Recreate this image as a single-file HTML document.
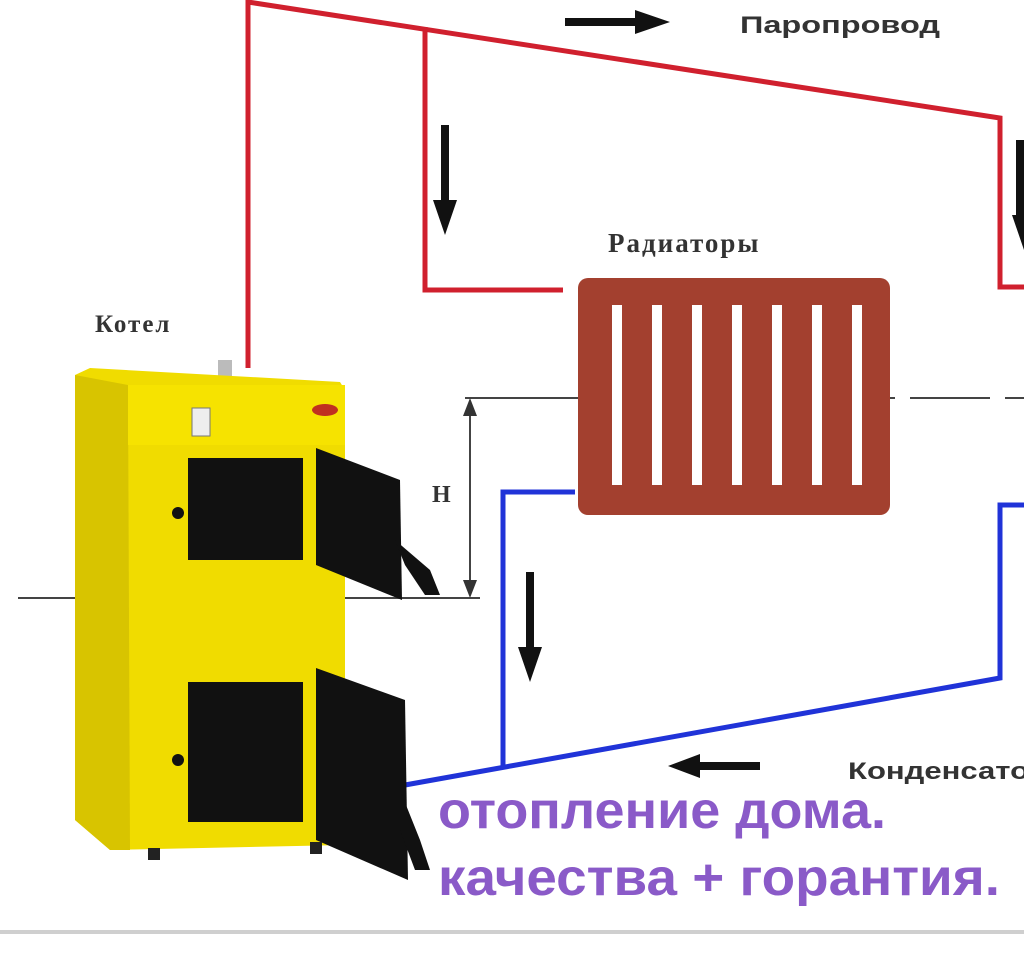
<!DOCTYPE html>
<html><head><meta charset="utf-8"><style>
body{margin:0;width:1024px;height:977px;background:#fff;overflow:hidden}
svg{display:block}
</style></head><body>
<svg width="1024" height="977" viewBox="0 0 1024 977" xmlns="http://www.w3.org/2000/svg">
<rect x="0" y="0" width="1024" height="932" fill="#fff"/>
<rect x="0" y="930" width="1024" height="4" fill="#cfcfcf"/>
<g fill="none" stroke="#d0202e" stroke-width="5">
<polyline points="248,368 248,2 1000,118 1000,287 1024,287"/>
<polyline points="425,27 425,290 563,290"/>
</g>
<g fill="none" stroke="#2033d8" stroke-width="5">
<polyline points="575,492 503,492 503,767"/>
<polyline points="405,785 1000,678 1000,505 1024,505"/>
</g>
<g stroke="#444" stroke-width="2" fill="none">
<path d="M465 398H860M880 398H895M910 398H990M1005 398H1024"/>
<path d="M18 598H190M200 598H240M255 598H480"/>
<line x1="470" y1="405" x2="470" y2="590"/>
</g>
<path d="M470 398l-7 18h14zM470 598l-7-18h14z" fill="#333"/>
<g fill="#111">
<path d="M565 18h70v-8l35 12-35 12v-8h-70z"/>
<path d="M441 125h8v75h8l-12 35-12-35h8z"/>
<path d="M1016 140h8v75h0l0 35-12-35h4z"/>
<path d="M526 572h8v75h8l-12 35-12-35h8z"/>
<path d="M760 762v8h-60v8l-32-12 32-12v8z"/>
</g>
<g font-family="'Liberation Sans',sans-serif" font-weight="bold" fill="#333">
<text x="740" y="33" font-size="24" textLength="200" lengthAdjust="spacingAndGlyphs">Паропровод</text>
<text x="848" y="779" font-size="24" textLength="200" lengthAdjust="spacingAndGlyphs">Конденсатор</text>
</g>
<g font-family="'Liberation Serif',serif" font-weight="bold" fill="#333">
<text x="608" y="252" font-size="27" letter-spacing="2">Радиаторы</text>
<text x="95" y="332" font-size="25" letter-spacing="2">Котел</text>
<text x="432" y="502" font-size="24">H</text>
</g>
<g>
<rect x="578" y="278" width="312" height="237" rx="10" fill="#a3402f"/>
<g fill="#fff">
<rect x="612" y="305" width="10" height="180"/>
<rect x="652" y="305" width="10" height="180"/>
<rect x="692" y="305" width="10" height="180"/>
<rect x="732" y="305" width="10" height="180"/>
<rect x="772" y="305" width="10" height="180"/>
<rect x="812" y="305" width="10" height="180"/>
<rect x="852" y="305" width="10" height="180"/>
</g>
</g>
<g>
<rect x="218" y="360" width="14" height="20" fill="#bbb"/>
<path d="M75 375 L90 368 L340 382 L345 390 L345 845 L110 850 L75 820Z" fill="#f0dc00"/>
<path d="M75 375 L128 385 L130 850 L110 850 L75 820Z" fill="#d8c400"/>
<rect x="128" y="385" width="217" height="60" fill="#f6e300"/>
<rect x="192" y="408" width="18" height="28" fill="#eee" stroke="#777"/>
<ellipse cx="325" cy="410" rx="13" ry="6" fill="#c03020"/>
<rect x="188" y="458" width="115" height="102" fill="#111"/>
<path d="M316 448 L400 480 L402 600 L316 565Z" fill="#111"/>
<path d="M395 540 L430 570 L440 595 L425 595 L405 565Z" fill="#111"/>
<rect x="188" y="682" width="115" height="140" fill="#111"/>
<path d="M316 668 L405 700 L408 880 L316 840Z" fill="#111"/>
<path d="M400 790 L420 840 L430 870 L415 870 L400 830Z" fill="#111"/>
<circle cx="178" cy="513" r="6" fill="#111"/>
<circle cx="178" cy="760" r="6" fill="#111"/>
<rect x="148" y="848" width="12" height="12" fill="#222"/>
<rect x="310" y="842" width="12" height="12" fill="#222"/>
</g>
<g font-family="'Liberation Sans',sans-serif" fill="#8a5ac8" font-size="52" font-weight="bold">
<text x="438" y="828" textLength="448" lengthAdjust="spacingAndGlyphs">отопление дома.</text>
<text x="438" y="895" textLength="562" lengthAdjust="spacingAndGlyphs">качества + горантия.</text>
</g>
</svg>
</body></html>
